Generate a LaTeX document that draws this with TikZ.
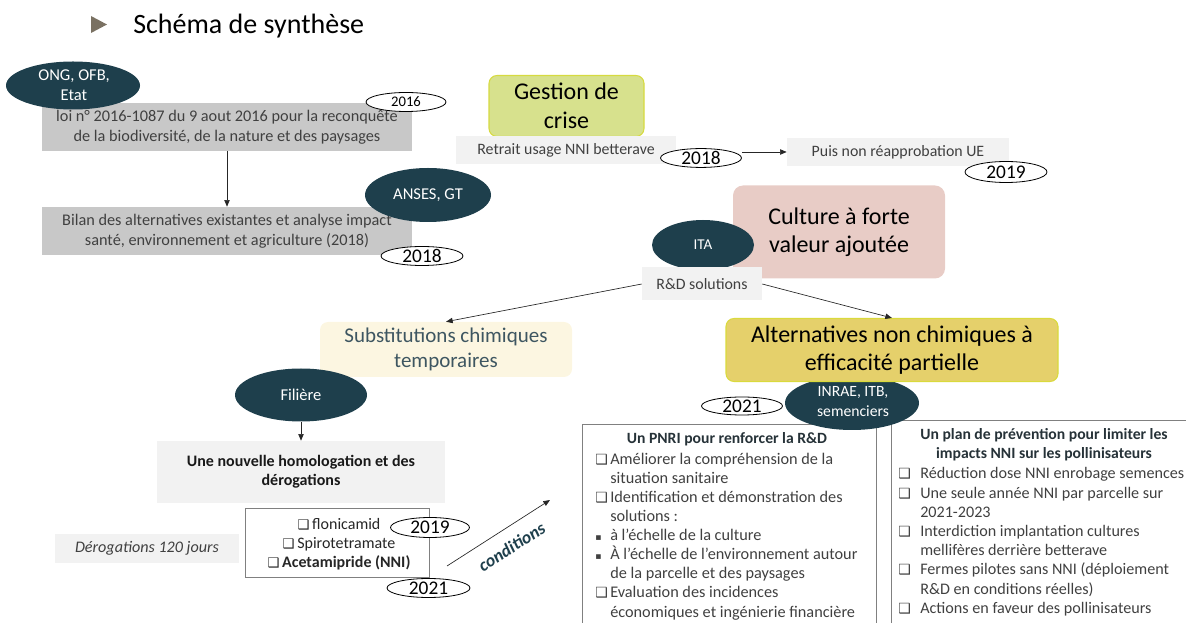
\documentclass[tikz,border=0pt]{standalone}
\usepackage{fontspec}
\setmainfont{Carlito}
\newfontfamily\djv{DejaVu Sans}
\usetikzlibrary{shapes.geometric,arrows.meta}
\definecolor{dteal}{RGB}{30,63,76}
\definecolor{gbox}{RGB}{200,200,200}
\definecolor{lbox}{RGB}{242,242,242}
\definecolor{txtg}{RGB}{64,64,64}
\definecolor{ttl}{RGB}{38,50,56}
\definecolor{gestf}{RGB}{215,225,141}
\definecolor{gestb}{RGB}{214,218,64}
\definecolor{cultf}{RGB}{232,204,198}
\definecolor{substf}{RGB}{252,246,225}
\definecolor{substt}{RGB}{62,86,97}
\definecolor{altf}{RGB}{229,208,107}
\definecolor{altb}{RGB}{218,218,60}
\definecolor{tri}{RGB}{122,113,98}
\definecolor{framec}{RGB}{128,128,128}
\newcommand{\cbx}{{\djv\fontsize{10.5pt}{10.5pt}\selectfont ❑}}
\newcommand{\sqb}{{\djv\fontsize{7pt}{7pt}\selectfont ▪}}
\newcommand{\pitem}[1]{\makebox[11.25pt][l]{\cbx}#1}
\newcommand{\pbul}[1]{\makebox[11.25pt][l]{\sqb}#1}
\newcommand{\pcont}[1]{\hspace*{11.25pt}#1}
\newcommand{\qitem}[1]{\makebox[16.5pt][l]{\cbx}#1}
\newcommand{\qcont}[1]{\hspace*{16.5pt}#1}
\newcommand{\lcb}{{\djv\bfseries\fontsize{10pt}{10pt}\selectfont ❑}\,}
\tikzset{
  sz/.style 2 args={minimum width=#1*0.75pt, minimum height=#2*0.75pt},
  box/.style={rectangle, inner sep=0pt, draw=none},
  graybox/.style={box, fill=gbox},
  lightbox/.style={box, fill=lbox, text=txtg, font=\fontsize{11.9pt}{14pt}\selectfont},
  actor/.style={ellipse, fill=dteal, inner sep=0pt, text=white, font=\fontsize{12.4pt}{15pt}\selectfont},
  actortxt/.style={inner sep=0pt, align=center, text=white, font=\fontsize{12.4pt}{15pt}\selectfont},
  year/.style={ellipse, draw=black, line width=0.6pt, fill=white, inner sep=0pt, font=\fontsize{14.5pt}{14.5pt}\selectfont},
  bodytxt/.style={inner sep=0pt, align=center, text=txtg, font=\fontsize{12.2pt}{15pt}\selectfont},
  arr/.style={-{Triangle[length=5pt,width=4pt]}, line width=0.5pt, draw=black!85},
  frameline/.style={draw=framec, line width=0.6pt},
  listtxt/.style={inner sep=0pt, align=left, text=txtg, font=\fontsize{12.2pt}{14.35pt}\selectfont},
  titletxt/.style={inner sep=0pt, align=center, text=ttl, font=\bfseries\fontsize{11.75pt}{14.35pt}\selectfont}
}
\begin{document}
\begin{tikzpicture}[x=0.75pt,y=-0.75pt]
\useasboundingbox (0,0) rectangle (1186,623);
% title
\fill[tri] (91,16) -- (107,24.5) -- (91,33) -- cycle;
\node[anchor=base west, inner sep=0pt, font=\fontsize{21pt}{24pt}\selectfont] (title) at (133,34) {Schéma de synthèse};

% ---- left column
\node[graybox, sz={370}{48}] (loi) at (227,127) {};
\node[bodytxt] (loit) at (227,127) {loi n° 2016-1087 du 9 aout 2016 pour la reconquête\\de la biodiversité, de la nature et des paysages};
\node[graybox, sz={370}{48}] (bilan) at (227,231) {};
\node[bodytxt] (bilant) at (227,231) {Bilan des alternatives existantes et analyse impact\\santé, environnement et agriculture (2018)};
\draw[arr] (loi) -- (bilan);
\node[actor, sz={134}{48}] (ong) at (73,85.5) {};
\node[actortxt] (ongt) at (74,85.5) {ONG, OFB,\\Etat};
\node[year, sz={80}{19}, font=\fontsize{11pt}{11pt}\selectfont] (y2016) at (406,102) {2016};
\node[actor, sz={126}{54}] (anses) at (428,195) {ANSES, GT};
\node[year, sz={82}{19}] (y2018a) at (422,256) {2018};

% ---- crisis management
\node[box, fill=gestf, draw=gestb, line width=0.8pt, rounded corners=6pt, sz={155}{61}, align=center, font=\fontsize{18pt}{22pt}\selectfont] (gest) at (566.5,106) {Gestion de\\crise};
\node[lightbox, sz={220}{28}] (retrait) at (566,150) {Retrait usage NNI betterave};
\node[year, sz={81}{18}] (y2018b) at (701,158) {2018};
\node[lightbox, sz={222}{28}] (puis) at (898,152) {Puis non réapprobation UE};
\node[year, sz={82}{21}] (y2019a) at (1006,172) {2019};
\draw[arr] (y2018b.east |- puis.west) -- (puis.west);

% ---- high value crop
\node[box, fill=cultf, rounded corners=7.5pt, sz={212}{93}, align=center, font=\fontsize{18pt}{21pt}\selectfont] (cult) at (839,232) {Culture à forte\\valeur ajoutée};
\node[actor, sz={102}{50}, font=\fontsize{11.25pt}{14pt}\selectfont] (ita) at (703,245) {ITA};
\node[lightbox, sz={120}{33}] (rd) at (702,284) {R\&D solutions};

\node[box, fill=substf, rounded corners=6pt, sz={252}{55}, text=substt, align=center, font=\fontsize{15.75pt}{19pt}\selectfont] (subst) at (446,349.5) {Substitutions chimiques\\temporaires};

% right: PNRI and plan frames, INRAE behind alternatives box
\node[inner sep=0pt, sz={293}{198}] (pnri) at (729.5,524) {};
\draw[frameline] (pnri.south west) -- (pnri.north west) -- (pnri.north east) -- (pnri.south east);
\node[inner sep=0pt, sz={294}{202}] (plan) at (1039,522) {};
\draw[frameline] (plan.south west) -- (plan.north west) -- (plan.north east);
\node[actor, sz={134}{54}] (inrae) at (852,403) {};
\node[actortxt, font=\fontsize{11.75pt}{15pt}\selectfont] (inraet) at (853,402) {INRAE, ITB,\\semenciers};
\node[box, fill=altf, draw=altb, line width=0.8pt, rounded corners=6pt, sz={332}{63}, align=center, font=\fontsize{18pt}{20.5pt}\selectfont] (alt) at (892,350) {Alternatives non chimiques à\\efficacité partielle};
\draw[arr] (rd.west) -- (subst.north);
\draw[arr] (rd.east) -- (alt.north);
\node[year, sz={81}{18}] (y2021b) at (742,406) {2021};

% ---- lower left
\node[actor, sz={132}{53}] (fil) at (301,395) {Filière};
\node[lightbox, sz={288}{62}, text=black!90, align=center, font=\bfseries\fontsize{12pt}{14pt}\selectfont] (homol) at (301,472) {Une nouvelle homologation et des\\dérogations};
\draw[arr] (fil) -- (homol);
\node[box, draw=framec, line width=0.6pt, fill=white, sz={184}{69}] (list) at (337,542.5) {};
\node[inner sep=0pt, align=center, text=black!85, font=\fontsize{12pt}{14.3pt}\selectfont] (listt) at (339,544) {\lcb flonicamid\\\lcb Spirotetramate\\\textbf{\lcb Acetamipride (NNI)}};
\node[year, sz={79}{20}] (y2019b) at (430,527.5) {2019};
\node[year, sz={83}{19}] (y2021a) at (428.5,588) {2021};
\node[lightbox, sz={184}{29}, font=\itshape\fontsize{12.1pt}{14pt}\selectfont] (derog) at (147,548.5) {Dérogations 120 jours};
\coordinate (cs) at (447,566);
\coordinate (ce) at (550,500);
\draw[arr] (cs) -- node[sloped, pos=0.53, below=9pt, inner sep=0pt, text=dteal, font=\bfseries\itshape\fontsize{13.3pt}{14pt}\selectfont] (cond) {conditions} (ce);

% ---- PNRI text
\node[titletxt] (pnrit) at (727,439) {Un PNRI pour renforcer la R\&D};
\node[listtxt, anchor=north west] (pnril) at (595,452.5) {%
\pitem{Améliorer la compréhension de la}\\
\pcont{situation sanitaire}\\
\pitem{Identification et démonstration des}\\
\pcont{solutions :}\\
\pbul{à l’échelle de la culture}\\
\pbul{À l’échelle de l’environnement autour}\\
\pcont{de la parcelle et des paysages}\\
\pitem{Evaluation des incidences}\\
\pcont{économiques et ingénierie financière}};

% ---- plan text
\node[titletxt] (plant) at (1044,444.5) {Un plan de prévention pour limiter les\\impacts NNI sur les pollinisateurs};
\node[listtxt, anchor=north west, font=\fontsize{12.1pt}{14.4pt}\selectfont] (planl) at (898,467.5) {%
\qitem{Réduction dose NNI enrobage semences}\\
\qitem{Une seule année NNI par parcelle sur}\\
\qcont{2021-2023}\\
\qitem{Interdiction implantation cultures}\\
\qcont{mellifères derrière betterave}\\
\qitem{Fermes pilotes sans NNI (déploiement}\\
\qcont{R\&D en conditions réelles)}\\
\qitem{Actions en faveur des pollinisateurs}};
\end{tikzpicture}
\end{document}
